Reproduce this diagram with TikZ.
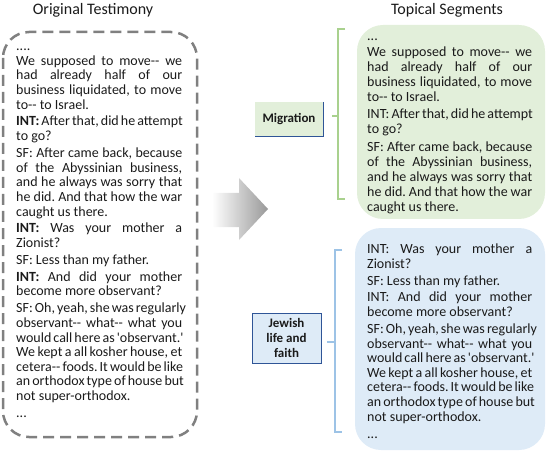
\documentclass[tikz,border=0pt]{standalone}
\usepackage{fontspec}
\setmainfont{Carlito}[Ligatures=TeXOff]
\definecolor{gfill}{HTML}{E2EFDA}
\definecolor{bfill}{HTML}{DEEBF7}
\definecolor{gbr}{HTML}{A9D18E}
\definecolor{bbr}{HTML}{9DC3E6}
\definecolor{dblue}{HTML}{2F5597}
\definecolor{dgray}{HTML}{808080}
\definecolor{txt}{HTML}{1A1A1A}
\newcommand{\jl}[1]{\hbox to \hsize{#1}}
\newcommand{\el}[1]{\hbox{#1}}
\newcommand{\G}{\vskip 2.2pt}
\frenchspacing
\begin{document}
\begin{tikzpicture}[x=1pt,y=-1pt,
  titletxt/.style={font=\fontsize{16}{18}\selectfont, text=txt, inner sep=0pt},
  bodytxt/.style={anchor=base west, inner sep=0pt, text=txt},
  segbox/.style={rounded corners=26pt},
  brk/.style={line width=1.8pt},
  lbl/.style={font=\fontsize{13}{15}\selectfont\bfseries, text=txt, align=center, inner sep=0pt}]
\useasboundingbox (0,0) rectangle (548,454);

% titles
\node[titletxt] (t1) at (93,10) {Original Testimony};
\node[titletxt] (t2) at (447,10) {Topical Segments};

% left dashed box
\draw[dgray, line width=2.5pt, dash pattern=on 11pt off 6pt, rounded corners=26pt] (3,32) rectangle (197,437);

\node[bodytxt] (lt) at (16,50.5) {\parbox[t]{166pt}{\fontsize{14}{14.65}\selectfont\frenchspacing
\el{....}
\jl{We supposed to move-- we}
\jl{had already half of our}
\jl{business liquidated, to move}
\el{to-- to Israel.}\G
\jl{\textbf{INT:} After that, did he attempt}
\el{to go?}\G
\jl{SF: After came back, because}
\jl{of the Abyssinian business,}
\jl{and he always was sorry that}
\jl{he did. And that how the war}
\el{caught us there.}\G
\jl{\textbf{INT:} Was your mother a}
\el{Zionist?}\G
\el{SF: Less than my father.}\G
\jl{\textbf{INT:} And did your mother}
\el{become more observant?}\G
\jl{SF: Oh, yeah, she was regularly}
\jl{observant-- what-- what you}
\jl{would call here as 'observant.'}
\jl{We kept a all kosher house, et}
\jl{cetera-- foods. It would be like}
\jl{an orthodox type of house but}
\el{not super-orthodox.}\G
\el{...}}};

% arrow
\shade[left color=white, right color=gray!80] (212,193) -- (239,193) -- (239,178) -- (268,209) -- (239,240) -- (239,227) -- (212,227) -- cycle;

% green segment
\fill[gfill, segbox] (357,25) rectangle (545,219);
\node[bodytxt] (gt) at (367,41) {\parbox[t]{165pt}{\fontsize{14}{15.1}\selectfont\frenchspacing
\el{...}
\jl{We supposed to move-- we}
\jl{had already half of our}
\jl{business liquidated, to move}
\el{to-- to Israel.}\G
\jl{INT: After that, did he attempt}
\el{to go?}\G
\jl{SF: After came back, because}
\jl{of the Abyssinian business,}
\jl{and he always was sorry that}
\jl{he did. And that how the war}
\el{caught us there.}}};

% blue segment
\fill[bfill, segbox] (355,228) rectangle (545,450);
\node[bodytxt] (bt) at (367,253.5) {\parbox[t]{165pt}{\fontsize{14}{14.65}\selectfont\frenchspacing
\jl{INT: Was your mother a}
\el{Zionist?}\G
\el{SF: Less than my father.}\G
\jl{INT: And did your mother}
\el{become more observant?}\G
\jl{SF: Oh, yeah, she was regularly}
\jl{observant-- what-- what you}
\jl{would call here as 'observant.'}
\jl{We kept a all kosher house, et}
\jl{cetera-- foods. It would be like}
\jl{an orthodox type of house but}
\el{not super-orthodox.}\G
\el{...}}};

% brackets
\draw[brk, gbr] (345,29) -- (338,29) -- (338,199) -- (345,199);
\draw[brk, gbr] (338,116) -- (332,116);
\draw[brk, bbr] (342,250) -- (335,250) -- (335,432) -- (342,432);
\draw[brk, bbr] (335,342) -- (327,342);

% label boxes
\fill[gfill] (255,102) rectangle (323,137);
\draw[dblue, line width=1pt] (323,102) -- (323,137) -- (255,137);
\node[lbl] (mig) at (289,119.5) {Migration};

\filldraw[fill=bfill, draw=dblue, line width=1pt] (252,313) rectangle (321,363);
\node[lbl] (jew) at (286.5,338) {Jewish\\life and\\faith};
\end{tikzpicture}
\end{document}
